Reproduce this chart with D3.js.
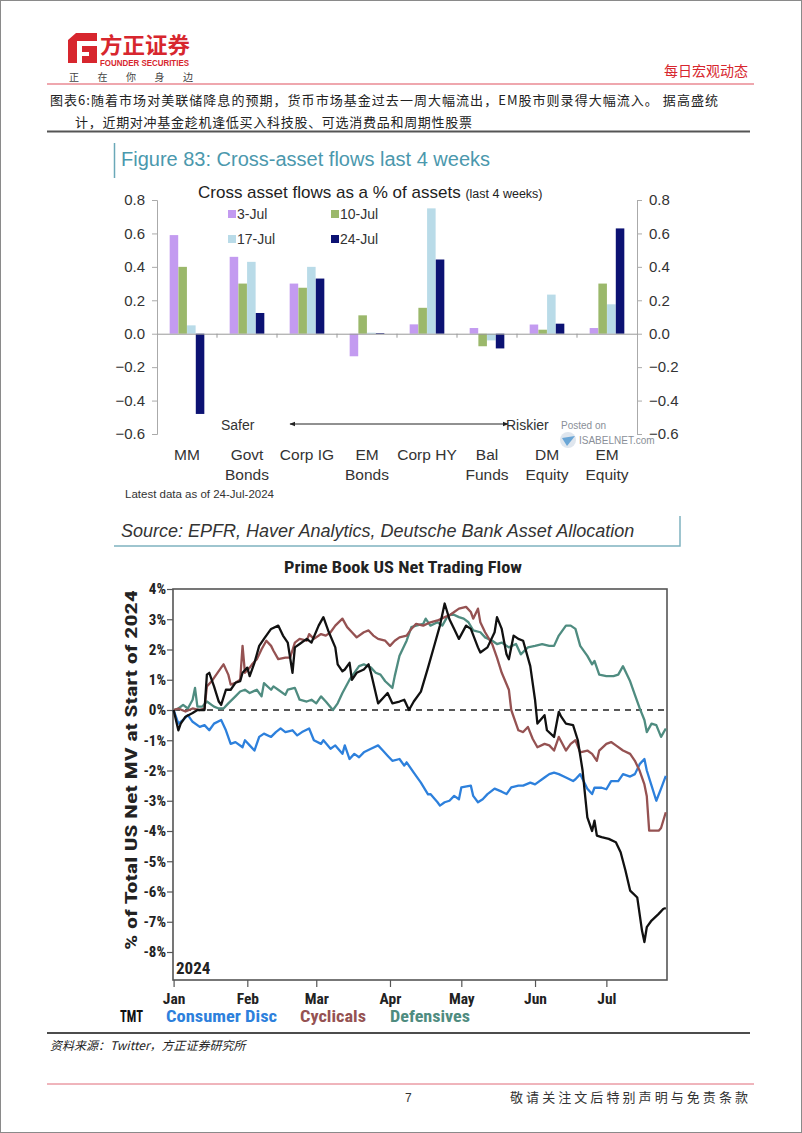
<!DOCTYPE html>
<html><head><meta charset="utf-8">
<script src="https://cdn.jsdelivr.net/npm/d3@7"></script>
<style>body{margin:0;background:#fff}svg{display:block}</style>
</head><body>
<svg id="c" width="802" height="1133"></svg>
<script>
// ---------- Bar chart data (Figure 83) ----------
const barCategories = ["MM","Govt|Bonds","Corp IG","EM|Bonds","Corp HY","Bal|Funds","DM|Equity","EM|Equity"];
const barSeries = ["3-Jul","10-Jul","17-Jul","24-Jul"];
const jul3  = [0.59, 0.46, 0.30, -0.135, 0.056, 0.034, 0.055, 0.034];
const jul10 = [0.40, 0.30, 0.275, 0.11, 0.155, -0.075, 0.024, 0.30];
const jul17 = [0.05, 0.43, 0.40, 0.006, 0.75, -0.04, 0.234, 0.176];
const jul24 = [-0.48, 0.124, 0.33, 0.004, 0.444, -0.088, 0.06, 0.63];
const barTicks = [0.8,0.6,0.4,0.2,0.0,-0.2,-0.4,-0.6];

// ---------- Line chart data (day offset from 2024-01-01, % of MV) ----------
const tmt = [[0,0],[2,-0.67],[3,-0.45],[5,-0.22],[8,-0.1],[10,0],[13,0],[14,1.17],[15,1.23],[17,0.78],[19,0.28],[20,0.17],[22,0.67],[24,0.67],[26,0.9],[28,0.95],[29,1.23],[31,1.4],[32,1.12],[34,1.56],[36,2.12],[38,2.35],[41,2.68],[44,2.79],[46,2.46],[48,2.23],[50,1.23],[51,2.07],[53,2.18],[56,2.35],[58,2.23],[61,2.79],[63,3.07],[65,2.63],[68,2.07],[69,1.51],[71,1.28],[72,1.34],[74,1.56],[75,1.0],[77,1.23],[80,1.34],[82,1.51],[83,1.23],[86,0.22],[88,0.39],[90,0.56],[92,0.22],[95,0.28],[97,0.34],[99,0],[101,0.28],[104,0.61],[107,1.4],[110,2.23],[112,2.79],[114,3.52],[116,3.0],[118,2.68],[120,2.35],[123,2.79],[125,2.68],[128,2.07],[129,1.9],[132,2.07],[135,2.57],[136,3.07],[138,2.68],[140,1.84],[141,1.68],[143,2.46],[145,2.35],[147,2.29],[150,1.45],[152,0.34],[153,-0.45],[156,-0.17],[157,-0.67],[160,-0.89],[162,-0.06],[163,-0.22],[165,-0.45],[168,-0.5],[170,-1.0],[172,-2.0],[173,-2.78],[174,-3.55],[176,-4.0],[177,-3.66],[178,-4.15],[180,-4.2],[183,-4.26],[186,-4.37],[188,-4.7],[190,-5.3],[192,-5.97],[195,-6.2],[197,-7.3],[198,-7.67],[199,-7.18],[201,-6.96],[204,-6.74],[206,-6.57],[207,-6.55]];
const consumerDisc = [[0,0],[2,-0.45],[4,-0.33],[6,-0.17],[8,-0.39],[11,-0.56],[13,-0.5],[15,-0.67],[17,-0.45],[20,-0.33],[22,-0.67],[24,-1.12],[26,-1.06],[29,-1.23],[30,-1.0],[32,-1.17],[34,-1.34],[36,-0.89],[38,-0.78],[41,-0.89],[43,-0.73],[45,-0.61],[47,-0.73],[50,-0.67],[52,-0.84],[54,-0.73],[57,-0.61],[59,-1.0],[62,-1.12],[63,-1.0],[66,-1.28],[68,-1.17],[71,-1.45],[72,-1.17],[74,-1.62],[76,-1.45],[78,-1.56],[80,-1.4],[83,-1.28],[86,-1.17],[88,-1.34],[90,-1.51],[92,-1.68],[95,-1.62],[97,-1.84],[98,-1.73],[101,-2.07],[104,-2.4],[107,-2.79],[108,-2.78],[111,-3.05],[112,-3.16],[114,-3.05],[116,-3.0],[118,-2.84],[120,-2.95],[121,-2.56],[125,-2.5],[126,-2.84],[128,-3.05],[130,-2.95],[132,-2.78],[135,-2.6],[138,-2.7],[140,-2.78],[142,-2.56],[145,-2.5],[147,-2.5],[150,-2.4],[152,-2.46],[156,-2.23],[158,-2.12],[160,-2.07],[162,-2.12],[165,-2.23],[168,-2.35],[169,-2.29],[171,-2.12],[174,-2.6],[176,-2.78],[177,-2.57],[180,-2.57],[182,-2.62],[184,-2.35],[187,-2.35],[189,-2.12],[192,-2.2],[194,-2.12],[196,-1.79],[198,-1.62],[199,-2.0],[201,-2.5],[203,-3.0],[205,-2.6],[207,-2.18]];
const cyclicals = [[0,0],[2,0.05],[5,-0.05],[8,0.05],[11,0],[13,0.05],[14,0.78],[16,0.95],[17,1.06],[20,1.4],[21,1.51],[23,1.17],[24,0.84],[26,0.9],[28,1.0],[29,2.12],[30,1.23],[32,1.4],[33,1.51],[35,1.68],[37,2.01],[39,2.29],[41,2.12],[42,1.96],[44,1.68],[47,1.73],[49,1.73],[51,2.23],[53,2.35],[56,2.29],[57,2.51],[59,2.35],[62,2.51],[64,2.46],[66,2.57],[68,2.79],[71,3.02],[73,2.74],[75,2.57],[77,2.4],[80,2.57],[82,2.63],[84,2.46],[86,2.35],[89,2.29],[91,2.12],[93,2.29],[95,2.4],[98,2.46],[100,2.68],[102,2.85],[105,2.79],[108,2.9],[111,2.96],[114,3.07],[116,3.13],[118,3.24],[120,3.35],[123,3.41],[125,3.24],[126,3.02],[128,3.35],[129,2.9],[131,2.57],[134,2.18],[136,1.73],[138,1.23],[141,0.67],[142,0],[144,-0.45],[145,-0.67],[147,-0.73],[149,-0.56],[151,-0.95],[153,-1.23],[156,-1.12],[158,-1.17],[160,-1.34],[162,-0.89],[165,-1.34],[167,-1.12],[169,-1.0],[171,-1.4],[174,-1.34],[176,-1.45],[178,-1.68],[179,-1.34],[182,-1.12],[184,-1.06],[186,-1.17],[189,-1.34],[192,-1.45],[194,-1.68],[196,-2.01],[198,-2.46],[199,-2.85],[200,-3.99],[204,-3.99],[205,-3.9],[207,-3.38]];
const defensives = [[0,0],[2,0.05],[4,0.17],[6,0.05],[8,0.34],[9,0.73],[10,0.11],[12,0.11],[14,0.28],[17,0.11],[19,0.05],[21,0.05],[23,0.22],[26,0.45],[28,0.61],[30,0.67],[32,0.56],[35,0.67],[37,0.45],[38,0.89],[41,0.67],[42,0.78],[44,0.67],[47,0.5],[48,0.67],[51,0.73],[53,0.34],[56,0.28],[58,0.34],[60,0.22],[62,0.45],[64,0.28],[67,0],[69,0.22],[71,0.56],[74,1.0],[76,1.23],[78,1.45],[80,1.51],[83,1.4],[85,1.23],[87,1.17],[89,0.95],[92,0.73],[93,1.12],[95,1.79],[98,2.29],[100,2.74],[102,2.79],[105,2.85],[106,3.02],[108,2.79],[111,2.9],[113,2.79],[115,3.07],[117,3.18],[120,3.07],[122,3.02],[124,2.9],[126,2.63],[129,2.57],[131,2.4],[134,2.29],[136,2.18],[138,2.23],[141,2.07],[144,2.18],[146,1.84],[149,2.07],[152,2.12],[155,2.18],[158,2.12],[160,2.12],[162,2.46],[165,2.79],[167,2.79],[169,2.68],[171,2.12],[174,1.79],[176,1.51],[177,1.62],[179,1.17],[182,1.12],[185,1.12],[187,1.17],[189,1.45],[192,0.95],[194,0.5],[196,0.06],[198,-0.33],[199,-0.73],[201,-0.45],[203,-0.5],[205,-0.89],[207,-0.61]];
const lineNames = ["TMT","Consumer Disc","Cyclicals","Defensives"];
const pctTicks = [4,3,2,1,0,-1,-2,-3,-4,-5,-6,-7,-8];
const monthLabels = ["Jan","Feb","Mar","Apr","May","Jun","Jul"];

// ---------- Drawing ----------
const svg = d3.select("#c");
const CJK = "'Noto Sans CJK SC','Noto Sans',sans-serif";
const SANS = "'Liberation Sans',Arial,sans-serif";
const NARROW = "'Liberation Sans Narrow','Roboto Condensed','Liberation Sans',Arial,sans-serif";
const RED = "#d7262e";

svg.append("rect").attr("x",0.5).attr("y",0.5).attr("width",801).attr("height",1132)
  .attr("fill","#fff").attr("stroke","#8a8a8a");

// Header
const logo = svg.append("g");
logo.append("path").attr("d","M68,40 L76,33 L97,33 L97,41 L77,41 L77,63 L68,63 Z").attr("fill",RED);
logo.append("path").attr("d","M82,46 L97,46 L97,63 L82,63 L82,56 L89,56 L89,52 L82,52 Z").attr("fill",RED);
svg.append("text").attr("x",100).attr("y",53).attr("font-family",CJK).attr("font-weight","bold")
  .attr("font-size",22).attr("fill",RED).attr("textLength",90).attr("lengthAdjust","spacingAndGlyphs").text("方正证券");
svg.append("text").attr("x",100).attr("y",66).attr("font-family",SANS).attr("font-weight","bold")
  .attr("font-size",8.5).attr("fill",RED).attr("textLength",89).attr("lengthAdjust","spacingAndGlyphs").text("FOUNDER SECURITIES");
["正","在","你","身","边"].forEach((c,i)=>{
  svg.append("text").attr("x",69+i*28.5).attr("y",81).attr("font-family",CJK).attr("font-size",10)
    .attr("fill","#444").text(c);
});
svg.append("text").attr("x",748).attr("y",76).attr("text-anchor","end").attr("font-family",CJK)
  .attr("font-size",14).attr("fill",RED).text("每日宏观动态");
svg.append("line").attr("x1",47).attr("x2",754).attr("y1",84).attr("y2",84).attr("stroke","#e0505e").attr("stroke-width",1.2);

svg.append("text").attr("x",50).attr("y",105).attr("font-family",CJK).attr("font-size",13).attr("fill","#222")
  .attr("textLength",668).attr("lengthAdjust","spacing")
  .text("图表6:随着市场对美联储降息的预期，货币市场基金过去一周大幅流出，EM股市则录得大幅流入。 据高盛统");
svg.append("text").attr("x",75).attr("y",127).attr("font-family",CJK).attr("font-size",13).attr("fill","#222")
  .attr("textLength",397).attr("lengthAdjust","spacing")
  .text("计，近期对冲基金趁机逢低买入科技股、可选消费品和周期性股票");
svg.append("line").attr("x1",47).attr("x2",750).attr("y1",131.5).attr("y2",131.5).attr("stroke","#555").attr("stroke-width",2);

// Figure 83 header
svg.append("line").attr("x1",114.5).attr("x2",114.5).attr("y1",143).attr("y2",178).attr("stroke","#6aa8b8").attr("stroke-width",1.5);
svg.append("text").attr("x",121).attr("y",166).attr("font-family",SANS).attr("font-size",20).attr("fill","#4b98ad")
  .text("Figure 83: Cross-asset flows last 4 weeks");

// Bar chart
const yB = d3.scaleLinear().domain([-0.6,0.8]).range([434,200]);
const x0 = d3.scaleBand().domain(barCategories).range([157,637]);
const x1 = d3.scaleBand().domain(barSeries).range([0,35]).padding(0.02);
const barColors = d3.scaleOrdinal().domain(barSeries).range(["#c39bf0","#9bb86b","#b9dbe8","#0c1273"]);
const barVals = [jul3,jul10,jul17,jul24];

const sub = svg.append("text").attr("x",198).attr("y",198).attr("font-family",SANS).attr("fill","#222");
sub.append("tspan").attr("font-size",17).text("Cross asset flows as a % of assets ");
sub.append("tspan").attr("font-size",12.5).text("(last 4 weeks)");

// axes
const axL = svg.append("g").attr("transform","translate(157,0)")
  .call(d3.axisLeft(yB).tickValues(barTicks).tickFormat(d3.format(".1f")).tickSize(5).tickPadding(7));
const axR = svg.append("g").attr("transform","translate(637,0)")
  .call(d3.axisRight(yB).tickValues(barTicks).tickFormat(d3.format(".1f")).tickSize(5).tickPadding(7));
[axL,axR].forEach(a=>{
  a.select(".domain").attr("stroke","#aaa");
  a.selectAll(".tick line").attr("stroke","#aaa");
  a.selectAll("text").attr("font-family",SANS).attr("font-size",15).attr("fill","#333");
});

// bars
const groups = svg.append("g").selectAll("g").data(barCategories).join("g")
  .attr("transform",d=>`translate(${x0(d)+x0.bandwidth()/2-17.5},0)`);
groups.selectAll("rect").data((d,i)=>barSeries.map((s,k)=>({s,v:barVals[k][i]}))).join("rect")
  .attr("x",d=>x1(d.s)).attr("width",x1.bandwidth())
  .attr("y",d=>yB(Math.max(0,d.v))).attr("height",d=>Math.abs(yB(d.v)-yB(0)))
  .attr("fill",d=>barColors(d.s));

// zero axis with category ticks
const zAx = svg.append("g").attr("transform",`translate(0,${yB(0)})`)
  .call(d3.axisBottom(x0).tickSize(0).tickFormat(""));
zAx.select(".domain").attr("stroke","#999");
svg.append("g").selectAll("line").data(barCategories.slice(1)).join("line")
  .attr("x1",d=>x0(d)).attr("x2",d=>x0(d)).attr("y1",yB(0)).attr("y2",yB(0)+4).attr("stroke","#999");

// category labels
barCategories.forEach(c=>{
  const parts = c.split("|");
  parts.forEach((p,j)=>{
    svg.append("text").attr("x",x0(c)+x0.bandwidth()/2).attr("y",460+j*20).attr("text-anchor","middle")
      .attr("font-family",SANS).attr("font-size",15.5).attr("fill","#333").text(p);
  });
});

// legend
barSeries.forEach((s,i)=>{
  const lx = 228 + (i%2)*103, ly = 215 + Math.floor(i/2)*25;
  svg.append("rect").attr("x",lx).attr("y",ly-5).attr("width",8).attr("height",8).attr("fill",barColors(s));
  svg.append("text").attr("x",lx+9).attr("y",ly+4).attr("font-family",SANS).attr("font-size",14).attr("fill","#333").text(s);
});

// Safer / Riskier arrow
const defs = svg.append("defs");
defs.append("marker").attr("id","ah").attr("viewBox","0 0 10 10").attr("refX",9).attr("refY",5)
  .attr("markerWidth",6).attr("markerHeight",6).attr("orient","auto-start-reverse")
  .append("path").attr("d","M0,1 L10,5 L0,9 Z").attr("fill","#222");
svg.append("line").attr("x1",290).attr("x2",508).attr("y1",424).attr("y2",424).attr("stroke","#222").attr("stroke-width",1)
  .attr("marker-start","url(#ah)").attr("marker-end","url(#ah)");
svg.append("text").attr("x",221).attr("y",430).attr("font-family",SANS).attr("font-size",14).attr("fill","#333").text("Safer");
svg.append("text").attr("x",506).attr("y",430).attr("font-family",SANS).attr("font-size",14).attr("fill","#333").text("Riskier");
svg.append("text").attr("x",561).attr("y",429).attr("font-family",SANS).attr("font-size",10).attr("fill","#8a8f98").text("Posted on");
svg.append("circle").attr("cx",568).attr("cy",440).attr("r",8).attr("fill","#dfe6ee");
svg.append("path").attr("d","M562,438 L575,436 L567,446 Z").attr("fill","#6aa6d6");
svg.append("text").attr("x",579).attr("y",444).attr("font-family",SANS).attr("font-size",10).attr("fill","#8a8f98").text("ISABELNET.com");

svg.append("text").attr("x",125).attr("y",498).attr("font-family",SANS).attr("font-size",11.5).attr("fill","#333").text("Latest data as of 24-Jul-2024");

// Source box
svg.append("text").attr("x",121).attr("y",537).attr("font-family",SANS).attr("font-style","italic")
  .attr("font-size",18).attr("fill","#333").text("Source: EPFR, Haver Analytics, Deutsche Bank Asset Allocation");
svg.append("path").attr("d","M114,546 L680,546 L680,516").attr("fill","none").attr("stroke","#7fb3c0").attr("stroke-width",1.5);

// ---------- Line chart ----------
const t0 = new Date(Date.UTC(2024,0,1));
const dayToDate = d => d3.utcDay.offset(t0, d);
const xL = d3.scaleUtc().domain([t0, d3.utcHour.offset(t0, 207.5*24)]).range([173.6,667]);
const yL = d3.scaleLinear().domain([-8,4]).range([952,589]);

svg.append("text").attr("x",403).attr("y",573).attr("text-anchor","middle").attr("font-family",NARROW)
  .attr("font-weight","bold").attr("font-size",17).attr("fill","#222")
  .attr("textLength",238).attr("lengthAdjust","spacingAndGlyphs").text("Prime Book US Net Trading Flow");

// frame
svg.append("rect").attr("x",173).attr("y",589).attr("width",494).attr("height",391)
  .attr("fill","none").attr("stroke","#555").attr("stroke-width",1.6);

// y axis
const yAx = svg.append("g").attr("transform","translate(173,0)")
  .call(d3.axisLeft(yL).tickValues(pctTicks).tickFormat(d=>d+"%").tickSize(6).tickPadding(1));
yAx.select(".domain").remove();
yAx.selectAll(".tick line").attr("stroke","#555").attr("stroke-width",1.2);
yAx.selectAll("text").attr("font-family",NARROW).attr("font-weight","bold").attr("font-size",15).attr("fill","#222");

// x axis
const monthTicks = d3.range(0,7).map(m=>new Date(Date.UTC(2024,m,1)));
const xAx = svg.append("g").attr("transform","translate(0,980)")
  .call(d3.axisBottom(xL).tickValues(monthTicks).tickFormat((d,i)=>monthLabels[i]).tickSize(7).tickPadding(6));
xAx.select(".domain").remove();
xAx.selectAll(".tick line").attr("stroke","#555").attr("stroke-width",1.2);
xAx.selectAll("text").attr("font-family",NARROW).attr("font-weight","bold").attr("font-size",15.5).attr("fill","#222");

// zero dashed
svg.append("line").attr("x1",174).attr("x2",666).attr("y1",yL(0)).attr("y2",yL(0))
  .attr("stroke","#222").attr("stroke-width",1.3).attr("stroke-dasharray","6,5");

const lineGen = d3.line().x(d=>xL(dayToDate(d[0]))).y(d=>yL(d[1]));
const lineColors = {"TMT":"#111111","Consumer Disc":"#2d80dc","Cyclicals":"#955252","Defensives":"#4f8c80"};
const lineData = {"TMT":tmt,"Consumer Disc":consumerDisc,"Cyclicals":cyclicals,"Defensives":defensives};
["Consumer Disc","Defensives","Cyclicals","TMT"].forEach(n=>{
  svg.append("path").datum(lineData[n]).attr("d",lineGen).attr("fill","none")
    .attr("stroke",lineColors[n]).attr("stroke-width",2.3).attr("stroke-linejoin","round");
});

svg.append("text").attr("x",176).attr("y",974).attr("font-family",NARROW).attr("font-weight","bold")
  .attr("font-size",17).attr("fill","#222").text("2024");

// y title
svg.append("text").attr("transform","translate(137,770) rotate(-90)").attr("text-anchor","middle")
  .attr("font-family",NARROW).attr("font-weight","bold").attr("font-size",17).attr("fill","#222")
  .attr("textLength",360).attr("lengthAdjust","spacingAndGlyphs").text("% of Total US Net MV at Start of 2024");

// legend
const legX = {"TMT":[120,23],"Consumer Disc":[166,111],"Cyclicals":[300,66],"Defensives":[390,80]};
lineNames.forEach(n=>{
  svg.append("text").attr("x",legX[n][0]).attr("y",1022).attr("font-family",NARROW).attr("font-weight","bold")
    .attr("font-size",17).attr("fill",lineColors[n]).attr("textLength",legX[n][1]).attr("lengthAdjust","spacingAndGlyphs").text(n);
});

// Footer
svg.append("line").attr("x1",47).attr("x2",750).attr("y1",1033).attr("y2",1033).attr("stroke","#111").attr("stroke-width",1.5);
svg.append("text").attr("x",50).attr("y",1050).attr("font-family",CJK).attr("font-style","italic").attr("font-size",12)
  .attr("fill","#222").text("资料来源：Twitter，方正证券研究所");
svg.append("line").attr("x1",47).attr("x2",754).attr("y1",1084).attr("y2",1084).attr("stroke","#e06a78").attr("stroke-width",1);
svg.append("text").attr("x",405).attr("y",1102).attr("font-family",SANS).attr("font-size",12).attr("fill","#333").text("7");
svg.append("text").attr("x",748).attr("y",1102).attr("text-anchor","end").attr("font-family",CJK).attr("font-size",13)
  .attr("fill","#333").attr("textLength",238).attr("lengthAdjust","spacing").text("敬请关注文后特别声明与免责条款");
</script>
</body></html>
